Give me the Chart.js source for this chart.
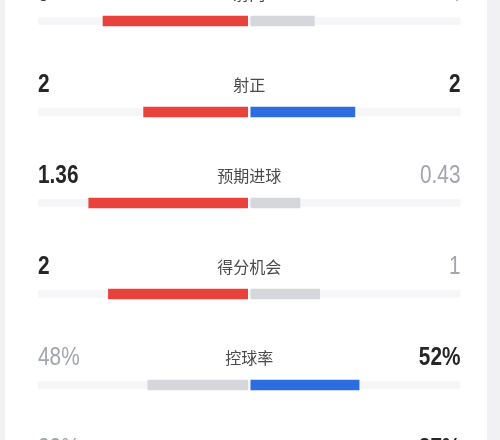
<!DOCTYPE html>
<html>
<head>
<meta charset="utf-8">
<script src="https://cdn.jsdelivr.net/npm/chart.js@4.4.1/dist/chart.umd.min.js"></script>
<style>
  html, body { margin: 0; padding: 0; background: #f1f1f3; }
  #wrap { position: relative; width: 500px; height: 440px; overflow: hidden; background: #f1f1f3; }
  #card { position: absolute; left: 5px; top: 0; width: 482px; height: 440px; background: #ffffff; }
  #c { position: absolute; left: 0; top: -40px; }
</style>
</head>
<body>
<div id="wrap">
  <div id="card"></div>
  <canvas id="c" width="500" height="620"></canvas>
</div>
<script>
// ---- data ----
const categories = ['射门', '射正', '预期进球', '得分机会', '控球率', '传球成功率'];
const homeValues = [9, 2, 1.36, 2, 48, 83];
const awayValues = [4, 2, 0.43, 1, 52, 87];
const homeLabels = ['9', '2', '1.36', '2', '48%', '83%'];
const awayLabels = ['4', '2', '0.43', '1', '52%', '87%'];

const RED = '#e9413b', BLUE = '#2d6de0', LOSE = '#d6d7dc', TRACK = '#f6f6f8';
const DARK = '#262626', GREY = '#a2a5ad';
const GAP = 0.0075;
const NARROW = 0.8;

const homeBars = homeValues.map((h, i) => [-h / (h + awayValues[i]), -GAP]);
const awayBars = awayValues.map((a, i) => [GAP, a / (homeValues[i] + a)]);
const homeColors = homeValues.map((h, i) => h >= awayValues[i] ? RED : LOSE);
const awayColors = awayValues.map((a, i) => a >= homeValues[i] ? BLUE : LOSE);

function narrowText(ctx, text, x, y, align) {
  ctx.save();
  ctx.translate(x, y);
  ctx.scale(NARROW, 1);
  ctx.textAlign = align;
  ctx.fillText(text, 0, 0);
  ctx.restore();
}

const textPlugin = {
  id: 'statText',
  afterDatasetsDraw(chart) {
    const { ctx, scales: { x, y } } = chart;
    ctx.save();
    ctx.textBaseline = 'middle';
    categories.forEach((cat, i) => {
      const yc = y.getPixelForValue(i) - 27;
      const h = homeValues[i], a = awayValues[i];
      ctx.font = '16px "Noto Sans CJK SC", sans-serif';
      ctx.fillStyle = '#4a4a4a';
      ctx.textAlign = 'center';
      ctx.fillText(cat, x.getPixelForValue(0), yc);
      ctx.font = (h >= a ? 'bold ' : '') + '26px "Liberation Sans", Arial, sans-serif';
      ctx.fillStyle = h >= a ? DARK : GREY;
      narrowText(ctx, homeLabels[i], x.getPixelForValue(-1), yc, 'left');
      ctx.font = (a >= h ? 'bold ' : '') + '26px "Liberation Sans", Arial, sans-serif';
      ctx.fillStyle = a >= h ? DARK : GREY;
      narrowText(ctx, awayLabels[i], x.getPixelForValue(1), yc, 'right');
    });
    ctx.restore();
  }
};

new Chart(document.getElementById('c'), {
  type: 'bar',
  data: {
    labels: categories,
    datasets: [
      { data: categories.map(() => [-1, 1]), backgroundColor: TRACK, barThickness: 7, grouped: false, order: 3 },
      { data: homeBars, backgroundColor: homeColors, barThickness: 10, grouped: false, order: 1 },
      { data: awayBars, backgroundColor: awayColors, barThickness: 10, grouped: false, order: 1 }
    ]
  },
  options: {
    indexAxis: 'y',
    responsive: false,
    animation: false,
    layout: { padding: { left: 38, right: 39.5, top: 15.5, bottom: 58.5 } },
    plugins: { legend: { display: false }, tooltip: { enabled: false } },
    scales: {
      x: { display: false, min: -1, max: 1 },
      y: { display: false, offset: true }
    }
  },
  plugins: [textPlugin]
});
</script>
</body>
</html>
